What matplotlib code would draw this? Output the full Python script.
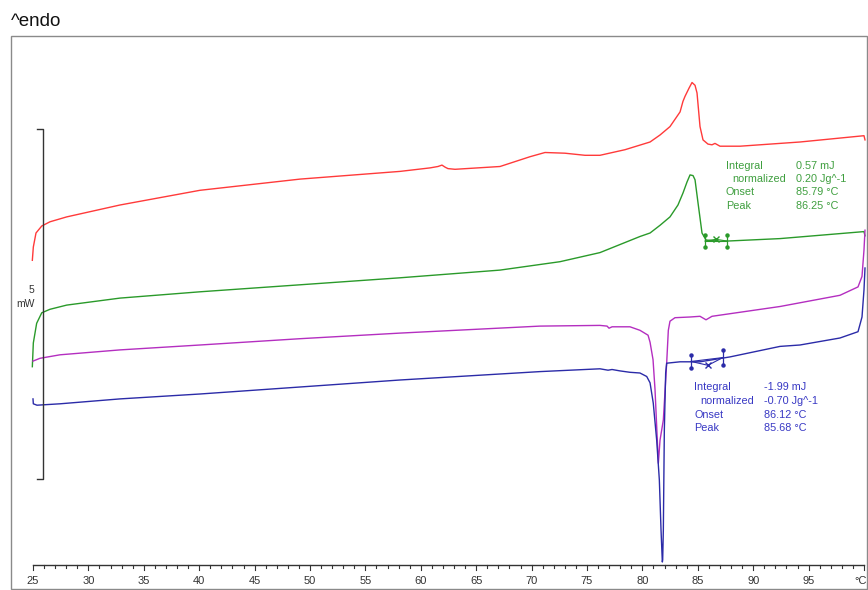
import numpy as np
import matplotlib
matplotlib.use("Agg")
import matplotlib.pyplot as plt
from matplotlib.patches import Rectangle

plt.rcParams['font.family'] = ['Liberation Sans', 'DejaVu Sans']

# ---- DSC curves: temperature (°C) and heat flow (mW, arbitrary offset) ----
red_T = [24.94, 25.03, 25.27, 25.79, 26.53, 28.04, 32.85, 40.07, 49.10, 58.12, 60.83,
         61.55, 61.91, 62.20, 62.45, 63.09, 67.15, 69.86, 71.21, 73.01, 74.82, 76.17,
         78.43, 80.69, 81.59, 82.49, 83.40, 83.66, 83.84, 84.21, 84.48, 84.75, 84.93,
         85.20, 85.47, 85.92, 86.28, 86.55, 87.00, 88.81, 94.22, 100.0, 100.09]
red_mW = [4.71, 4.90, 5.10, 5.20, 5.26, 5.33, 5.50, 5.71, 5.87, 5.98, 6.03,
          6.05, 6.07, 6.04, 6.02, 6.01, 6.05, 6.19, 6.25, 6.24, 6.21, 6.21,
          6.29, 6.40, 6.50, 6.62, 6.83, 6.98, 7.05, 7.17, 7.25, 7.21, 7.10,
          6.62, 6.43, 6.37, 6.36, 6.38, 6.34, 6.34, 6.40, 6.49, 6.43]

green_T = [24.94, 25.03, 25.33, 25.79, 26.53, 28.04, 32.85, 40.07, 49.10, 58.12, 67.15,
           72.56, 76.17, 79.78, 80.69, 81.59, 82.49, 83.21, 83.66, 84.03, 84.30, 84.57,
           84.75, 85.02, 85.38, 85.74, 87.00, 92.42, 100.0, 100.09]
green_mW = [3.19, 3.53, 3.81, 3.96, 4.01, 4.07, 4.17, 4.26, 4.36, 4.46, 4.57,
            4.69, 4.82, 5.05, 5.10, 5.21, 5.33, 5.50, 5.67, 5.83, 5.93, 5.92,
            5.86, 5.53, 5.10, 5.00, 4.98, 5.02, 5.12, 5.06]

purple_T = [25.0, 25.63, 27.44, 32.85, 40.07, 49.10, 58.12, 70.76, 76.17, 76.81, 76.99,
            77.26, 78.88, 79.78, 80.51, 80.69, 80.96, 81.14, 81.44, 81.59, 81.89, 82.19,
            82.34, 82.49, 82.94, 84.30, 85.20, 85.74, 86.28, 92.42, 97.83, 99.46, 99.82,
            100.0, 100.09]
purple_mW = [3.27, 3.31, 3.36, 3.43, 3.50, 3.59, 3.67, 3.77, 3.78, 3.77, 3.74,
             3.76, 3.76, 3.71, 3.64, 3.54, 3.29, 2.86, 1.81, 2.14, 2.43, 3.24,
             3.71, 3.84, 3.89, 3.90, 3.91, 3.86, 3.91, 4.05, 4.21, 4.33, 4.48,
             4.86, 5.14]

blue_T = [25.0, 25.03, 25.36, 27.44, 32.85, 40.07, 49.10, 58.12, 70.76, 76.17, 76.90,
          77.26, 77.98, 78.88, 79.78, 80.39, 80.69, 80.98, 81.29, 81.53, 81.68, 81.80,
          81.83, 81.89, 81.98, 82.10, 82.19, 83.40, 85.20, 87.91, 92.42, 94.22, 97.83,
          99.46, 99.82, 100.0, 100.09]
blue_mW = [2.73, 2.66, 2.64, 2.66, 2.73, 2.80, 2.90, 3.00, 3.12, 3.16, 3.14,
           3.15, 3.13, 3.11, 3.10, 3.05, 2.96, 2.67, 2.14, 1.57, 0.86, 0.40,
           0.43, 0.86, 2.29, 3.10, 3.24, 3.26, 3.26, 3.33, 3.48, 3.50, 3.60,
           3.69, 3.90, 4.29, 4.60]

# ---- peak evaluation results ----
green_labels = ["Integral", "normalized", "Onset", "Peak"]
green_values = ["0.57 mJ", "0.20 Jg^-1", "85.79 °C", "86.25 °C"]
blue_labels = ["Integral", "normalized", "Onset", "Peak"]
blue_values = ["-1.99 mJ", "-0.70 Jg^-1", "86.12 °C", "85.68 °C"]

# integration limits (°C) and baseline/tangent crossing
green_limits = [85.65, 87.64]
green_cross = (86.64, 5.01)
blue_limits = [84.39, 87.25]
blue_cross = (85.92, 3.21)

# temperature axis
tick_start, tick_stop = 25, 100
major_labels = [str(t) for t in range(25, 100, 5)] + ["°C"]
scale_mW = 5

C_RED = "#ff3a3a"
C_GREEN = "#2a9a2a"
C_PURPLE = "#b42ec0"
C_BLUE = "#2b2ba8"
C_GREEN_TXT = "#3f9f3f"
C_BLUE_TXT = "#3838c4"
C_AX = "#333333"

fig = plt.figure(figsize=(8.68, 5.90), dpi=100)
ax = fig.add_axes([0, 0, 1, 1])
px_per_deg = 11.08
ax.set_xlim(25 - 33 / px_per_deg, 25 + 835 / px_per_deg)
ax.set_ylim(0, 590 / 70)
ax.axis("off")

# outer frame and title
fig.patches.append(Rectangle((11 / 868, 1.5 / 590), 856 / 868, 552.5 / 590,
                             transform=fig.transFigure, fill=False,
                             edgecolor="#8a8a8a", linewidth=1.0))
fig.text(11 / 868, (590 - 21) / 590, "^endo", fontsize=13.5, va="center",
         ha="left", color="#111111")

lw = 1.0
ax.plot(red_T, red_mW, color=C_RED, lw=lw)
ax.plot(green_T, green_mW, color=C_GREEN, lw=lw)
ax.plot(purple_T, purple_mW, color=C_PURPLE, lw=lw)
ax.plot(blue_T, blue_mW, color=C_BLUE, lw=lw)

# integration markers
def limits_marks(limits, cross, ylo, yhi, color):
    for x, (lo, hi) in zip(limits, zip(ylo, yhi)):
        ax.plot([x, x], [lo, hi], color=color, lw=0.9)
        ax.plot([x, x], [lo, hi], ls="none", marker="o", ms=2.2, color=color)
    mid = [(a + b) / 2 for a, b in zip(ylo, yhi)]
    ax.plot([limits[0], cross[0], limits[1]], [mid[0], cross[1], mid[1]],
            color=color, lw=0.8)
    ax.plot(limits, mid, color=color, lw=0.8)
    ax.plot([cross[0]], [cross[1]], marker="x", ms=5, mew=1.0, color=color)

limits_marks(green_limits, green_cross, [4.90, 4.90], [5.07, 5.07], C_GREEN)
limits_marks(blue_limits, blue_cross, [3.17, 3.21], [3.36, 3.43], C_BLUE)

# result tables
def table(labels, values, x_lab, x_norm, x_val, y_rows, color):
    for lab, val, y in zip(labels, values, y_rows):
        xl = x_norm if lab == "normalized" else x_lab
        ax.text(xl, y, lab, fontsize=7.8, color=color, ha="left", va="center")
        ax.text(x_val, y, val, fontsize=7.8, color=color, ha="left", va="center")

table(green_labels, green_values, 87.54, 88.11, 93.83, [6.06, 5.87, 5.68, 5.49], C_GREEN_TXT)
table(blue_labels, blue_values, 84.68, 85.20, 90.95, [2.90, 2.70, 2.50, 2.32], C_BLUE_TXT)

# scale bar
sb_x, sb_lo = 25.90, 1.59
ax.plot([25.36, sb_x, sb_x, 25.36], [sb_lo, sb_lo, sb_lo + scale_mW, sb_lo + scale_mW],
        color=C_AX, lw=1.0)
ax.text(25.14, 4.29, str(scale_mW), fontsize=7.5, ha="right", va="center", color=C_AX)
ax.text(25.14, 4.09, "mW", fontsize=7.5, ha="right", va="center", color=C_AX)

# temperature axis with 1 °C minor and 5 °C major ticks
y_axis = 25 / 70
ax.plot([tick_start, tick_stop], [y_axis, y_axis], color=C_AX, lw=1.0)
ticks = np.arange(tick_start, tick_stop + 1)
for t in ticks:
    length = 4.5 / 70 if t % 5 == 0 else 2.8 / 70
    ax.plot([t, t], [y_axis, y_axis - length], color=C_AX, lw=0.8)
for t, lab in zip(range(25, 101, 5), major_labels):
    ha = "right" if lab == "°C" else "center"
    x = t + 0.25 if lab == "°C" else t
    ax.text(x, 9 / 70, lab, fontsize=8, ha=ha, va="center", color=C_AX)

fig.savefig("out.png", dpi=100)
